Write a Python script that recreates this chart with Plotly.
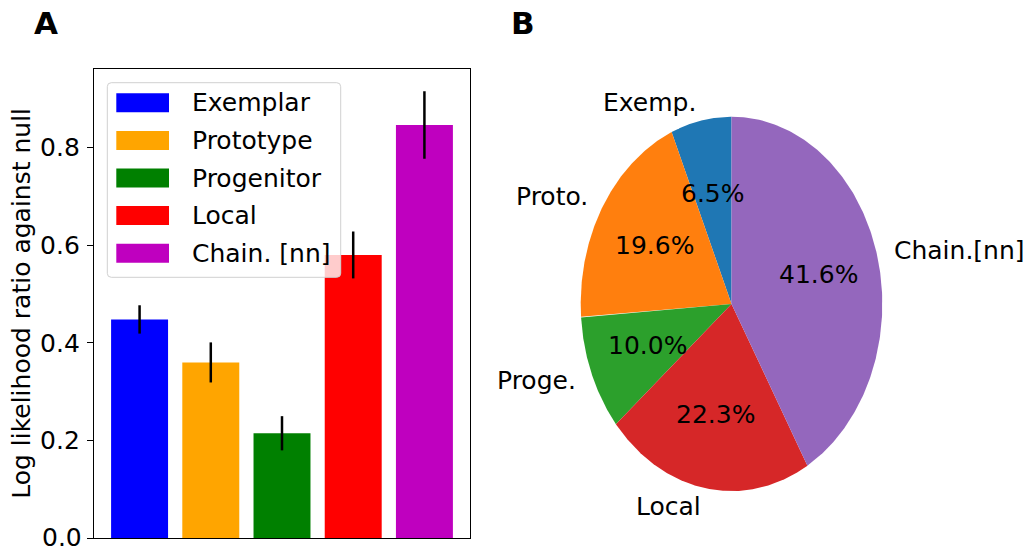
import numpy as np
import plotly.graph_objects as go

W, H = 1031, 553
FONT = "DejaVu Sans"
FS = 25

# Panel A: model fits (log likelihood ratio against null)
models = ["Exemplar", "Prototype", "Progenitor", "Local", "Chain. [nn]"]
llr_mean = [0.448, 0.360, 0.215, 0.580, 0.846]
llr_err = [0.029, 0.041, 0.035, 0.048, 0.069]
bar_colors = ["#0000ff", "#ffa500", "#008000", "#ff0000", "#bf00bf"]
y_ticks = [0.0, 0.2, 0.4, 0.6, 0.8]

# Panel B: share of best-fitting model
pie_labels = ["Exemp.", "Proto.", "Proge.", "Local", "Chain.[nn]"]
pie_pct = [6.5, 19.6, 10.0, 22.3, 41.6]
pie_colors = ["#1f77b4", "#ff7f0e", "#2ca02c", "#d62728", "#9467bd"]


def fx(px):
    """pixel column -> paper x"""
    return px / W


def fy(py):
    """pixel row -> paper y"""
    return 1 - py / H


fig = go.Figure()

# bars with symmetric error bars
fig.add_trace(go.Bar(
    x=list(range(len(models))), y=llr_mean, width=0.8,
    marker=dict(color=bar_colors, line=dict(width=0)),
    error_y=dict(type="data", array=llr_err, color="black", thickness=2.5, width=0),
    showlegend=False, hoverinfo="skip", xaxis="x", yaxis="y",
))

# elliptical pie built from filled wedges, counter-clockwise from 12 o'clock
R_LIM = 1.3
start = 90.0
total = sum(pie_pct)
annotations = []
for lab, val, col in zip(pie_labels, pie_pct, pie_colors):
    span = 360.0 * val / total
    t = np.radians(np.linspace(start, start + span, 200))
    xs = np.concatenate([[0], np.cos(t), [0]])
    ys = np.concatenate([[0], np.sin(t), [0]])
    fig.add_trace(go.Scatter(
        x=xs, y=ys, mode="lines", fill="toself", fillcolor=col,
        line=dict(width=0, color=col), showlegend=False, hoverinfo="skip",
        xaxis="x2", yaxis="y2",
    ))
    mid = np.radians(start + span / 2)
    lx, ly = 1.1 * np.cos(mid), 1.1 * np.sin(mid)
    annotations.append(dict(
        x=lx, y=ly, xref="x2", yref="y2", text=lab, showarrow=False,
        xanchor="right" if lx < 0 else "left", yanchor="middle",
        font=dict(family=FONT, size=FS, color="black"),
    ))
    annotations.append(dict(
        x=0.6 * np.cos(mid), y=0.6 * np.sin(mid), xref="x2", yref="y2",
        text=f"{val:.1f}%", showarrow=False, xanchor="center", yanchor="middle",
        font=dict(family=FONT, size=FS, color="black"),
    ))
    start += span

# legend box for the bar panel
shapes = []
lx0, lx1, ly0, ly1, rr = 107.3, 340.7, 82.7, 277.3, 4
path = (f"M {fx(lx0 + rr)},{fy(ly0)} L {fx(lx1 - rr)},{fy(ly0)} "
        f"Q {fx(lx1)},{fy(ly0)} {fx(lx1)},{fy(ly0 + rr)} "
        f"L {fx(lx1)},{fy(ly1 - rr)} Q {fx(lx1)},{fy(ly1)} {fx(lx1 - rr)},{fy(ly1)} "
        f"L {fx(lx0 + rr)},{fy(ly1)} Q {fx(lx0)},{fy(ly1)} {fx(lx0)},{fy(ly1 - rr)} "
        f"L {fx(lx0)},{fy(ly0 + rr)} Q {fx(lx0)},{fy(ly0)} {fx(lx0 + rr)},{fy(ly0)} Z")
shapes.append(dict(type="path", path=path, xref="paper", yref="paper",
                   fillcolor="rgba(255,255,255,0.8)",
                   line=dict(color="#d0d0d0", width=1), layer="above"))
for i, (name, col) in enumerate(zip(models, bar_colors)):
    cy = 102.8 + 37.6 * i
    shapes.append(dict(type="rect", xref="paper", yref="paper",
                       x0=fx(116.3), x1=fx(169), y0=fy(cy + 9.5), y1=fy(cy - 9.5),
                       fillcolor=col, line=dict(width=0), layer="above"))
    annotations.append(dict(
        x=fx(190), y=fy(cy), xref="paper", yref="paper", text=name,
        showarrow=False, xanchor="left", yanchor="middle",
        font=dict(family=FONT, size=FS, color="black"),
    ))

# the lowest tick label sits on the bottom edge, so it is placed as a
# bottom-anchored note that stays inside the page
tick_text = [f"{v:.1f}" for v in y_ticks]
annotations.append(dict(
    x=fx(82.5), y=0, xref="paper", yref="paper", text=tick_text[0],
    showarrow=False, xanchor="right", yanchor="bottom", borderpad=0,
    font=dict(family=FONT, size=FS, color="black"),
))

# y-axis title of the bar panel
annotations.append(dict(
    x=fx(22), y=fy(303.8), xref="paper", yref="paper", textangle=-90,
    text="Log likelihood ratio against null", showarrow=False,
    xanchor="center", yanchor="middle",
    font=dict(family=FONT, size=FS, color="black"),
))

# panel letters
for letter, px in (("A", 32), ("B", 509)):
    annotations.append(dict(
        x=fx(px), y=fy(23.5), xref="paper", yref="paper", text=f"<b>{letter}</b>",
        showarrow=False, xanchor="left", yanchor="middle",
        font=dict(family=FONT, size=31, color="black"),
    ))

cx, cy0, rx, ry = 731.5, 303.9, 150.8, 187.2

fig.update_layout(
    width=W, height=H, margin=dict(l=0, r=0, t=0, b=0),
    paper_bgcolor="white", plot_bgcolor="white",
    font=dict(family=FONT, size=FS, color="black"),
    showlegend=False,
    xaxis=dict(domain=[fx(94), fx(470)], range=[-0.64, 4.64], showticklabels=False,
               ticks="", showgrid=False, zeroline=False, showline=True, mirror=True,
               linecolor="black", linewidth=1.3, anchor="y", fixedrange=True),
    yaxis=dict(domain=[fy(538.3), fy(69.3)], range=[0, 0.96], tickvals=y_ticks,
               ticktext=[""] + tick_text[1:], ticks="outside", ticklen=6,
               tickwidth=1.3, tickcolor="black", showgrid=False, zeroline=False,
               showline=True, mirror=True, linecolor="black", linewidth=1.3,
               anchor="x", ticklabelstandoff=2, fixedrange=True,
               tickfont=dict(family=FONT, size=FS, color="black")),
    xaxis2=dict(domain=[fx(cx - R_LIM * rx), fx(cx + R_LIM * rx)], range=[-R_LIM, R_LIM],
                visible=False, anchor="y2", fixedrange=True),
    yaxis2=dict(domain=[fy(cy0 + R_LIM * ry), fy(cy0 - R_LIM * ry)], range=[-R_LIM, R_LIM],
                visible=False, anchor="x2", fixedrange=True),
    shapes=shapes,
    annotations=annotations,
)

fig.write_html("out.html")
